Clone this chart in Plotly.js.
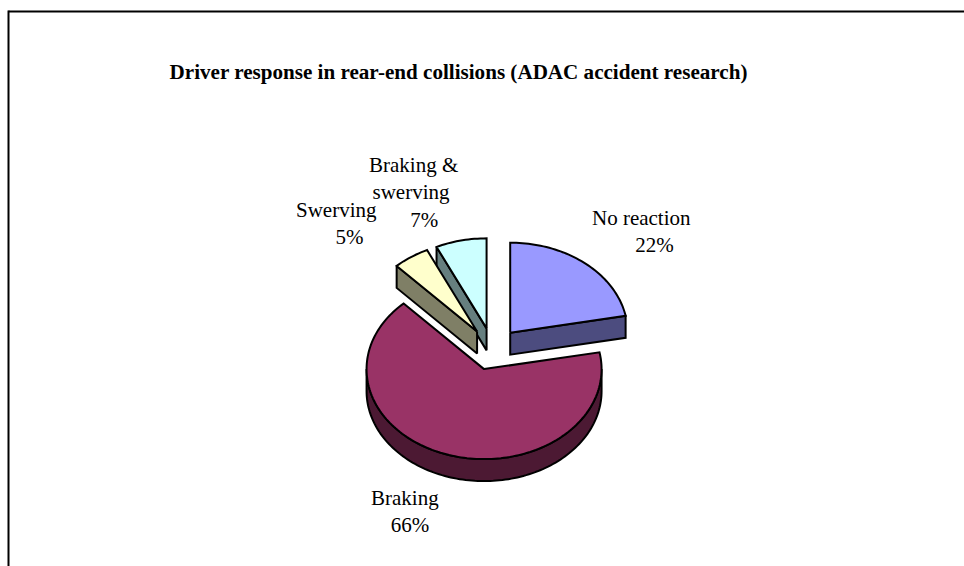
<!DOCTYPE html>
<html>
<head>
<meta charset="utf-8">
<script src="https://cdn.plot.ly/plotly-3.0.1.min.js"></script>
<style>html,body{margin:0;padding:0;background:#fff;overflow:hidden}#chart{width:964px;height:566px}</style>
</head>
<body>
<div id="chart"></div>
<script>
const categories = ['No reaction', 'Braking', 'Swerving', 'Braking &<br>swerving'];
const shares = [22, 66, 5, 7];
const topColors = ['#9999FF', '#993366', '#FFFFCC', '#CCFFFF'];
const sideColors = ['#4C4C7F', '#4C1933', '#7F7F66', '#667F7F'];
const titleText = 'Driver response in rear-end collisions (ADAC accident research)';

// Layout of the pie on the page, in pixels
const W = 964, H = 566;
const cx = 492.6, cy = 349, rx = 117.5, ry = 90, depthPx = 22, pull = 0.235;
const depth = depthPx / ry;
const rad = d => d * Math.PI / 180;
const px = d => Math.sin(rad(d));
const py = d => Math.cos(rad(d));
const STEP = 1.5;

function arc(a0, a1) {
  const n = Math.max(1, Math.ceil(Math.abs(a1 - a0) / STEP));
  const xs = [], ys = [];
  for (let i = 0; i <= n; i++) {
    const a = a0 + (a1 - a0) * i / n;
    xs.push(px(a)); ys.push(py(a));
  }
  return [xs, ys];
}

function poly(xs, ys, ox, oy, color, name) {
  return {
    type: 'scatter', mode: 'lines', name, x: xs.map(v => v + ox), y: ys.map(v => v + oy),
    fill: 'toself', fillcolor: color,
    line: {color: '#000', width: 2, simplify: false},
    hoverinfo: 'skip', showlegend: false
  };
}

const total = shares.reduce((a, b) => a + b, 0);
let run = 0;
const slices = shares.map((v, i) => {
  const start = run / total * 360;
  run += v;
  const end = run / total * 360;
  const mid = (start + end) / 2;
  return {i, start, end, mid, ox: pull * px(mid), oy: pull * py(mid)};
});

const traces = [];
slices.slice().sort((a, b) => py(b.mid) - py(a.mid)).forEach(s => {
  const side = sideColors[s.i], top = topColors[s.i], name = categories[s.i];
  // radial cut faces that look towards the viewer
  [[s.start, s.start - 90], [s.end, s.end + 90]].forEach(([a, normal]) => {
    if (py(normal) < -1e-6) {
      traces.push(poly([0, px(a), px(a), 0, 0], [0, py(a), py(a) - depth, -depth, 0], s.ox, s.oy, side, name));
    }
  });
  // outer rim wall on the front half
  const w0 = Math.max(s.start, 90), w1 = Math.min(s.end, 270);
  if (w1 > w0) {
    const [ax, ay] = arc(w0, w1);
    const bx = ax.slice().reverse(), by = ay.slice().reverse().map(v => v - depth);
    traces.push(poly(ax.concat(bx, [ax[0]]), ay.concat(by, [ay[0]]), s.ox, s.oy, side, name));
  }
  // top surface
  const [tx, ty] = arc(s.start, s.end);
  traces.push(poly([0].concat(tx, [0]), [0].concat(ty, [0]), s.ox, s.oy, top, name));
});

const nb = n => '\u00a0'.repeat(n);
const labelFont = {family: '"Liberation Serif", "Times New Roman", serif', size: 21, color: '#000'};
const labelSpots = [
  {i: 0, x: 641.5, y: 231, pad: 5},
  {i: 1, x: 405, y: 511, pad: 2},
  {i: 2, x: 336, y: 223, pad: 5},
  {i: 3, x: 413, y: 192.5, pad: 4}
];
const annotations = labelSpots.map(l => ({
  xref: 'paper', yref: 'paper', x: l.x / W, y: 1 - l.y / H,
  xanchor: 'center', yanchor: 'middle', showarrow: false, align: 'center',
  text: categories[l.i].replace('<br>swerving', '<br>swerving' + nb(1)) + '<br>' + nb(l.pad) + shares[l.i] + '%',
  font: labelFont
}));

const frameLine = {color: '#000', width: 2};
const layout = {
  width: W, height: H, margin: {l: 0, r: 0, t: 0, b: 0},
  paper_bgcolor: '#fff', plot_bgcolor: '#fff', showlegend: false,
  title: {
    text: '<b>' + titleText + '</b>', x: 458.5 / W, xref: 'paper', xanchor: 'center',
    y: 1 - 72 / H, yref: 'paper', yanchor: 'middle',
    font: {family: '"Liberation Serif", "Times New Roman", serif', size: 21.1, color: '#000'}
  },
  xaxis: {visible: false, range: [-cx / rx, (W - cx) / rx], fixedrange: true},
  yaxis: {visible: false, range: [-(H - cy) / ry, cy / ry], fixedrange: true},
  shapes: [
    {type: 'line', xref: 'paper', yref: 'paper', layer: 'below', x0: 8.5 / W, x1: 1, y0: 1 - 11.5 / H, y1: 1 - 11.5 / H, line: frameLine},
    {type: 'line', xref: 'paper', yref: 'paper', layer: 'below', x0: 8.5 / W, x1: 8.5 / W, y0: 0, y1: 1 - 10.5 / H, line: frameLine}
  ],
  annotations
};

Plotly.newPlot('chart', traces, layout, {displayModeBar: false, staticPlot: true});
</script>
</body>
</html>
